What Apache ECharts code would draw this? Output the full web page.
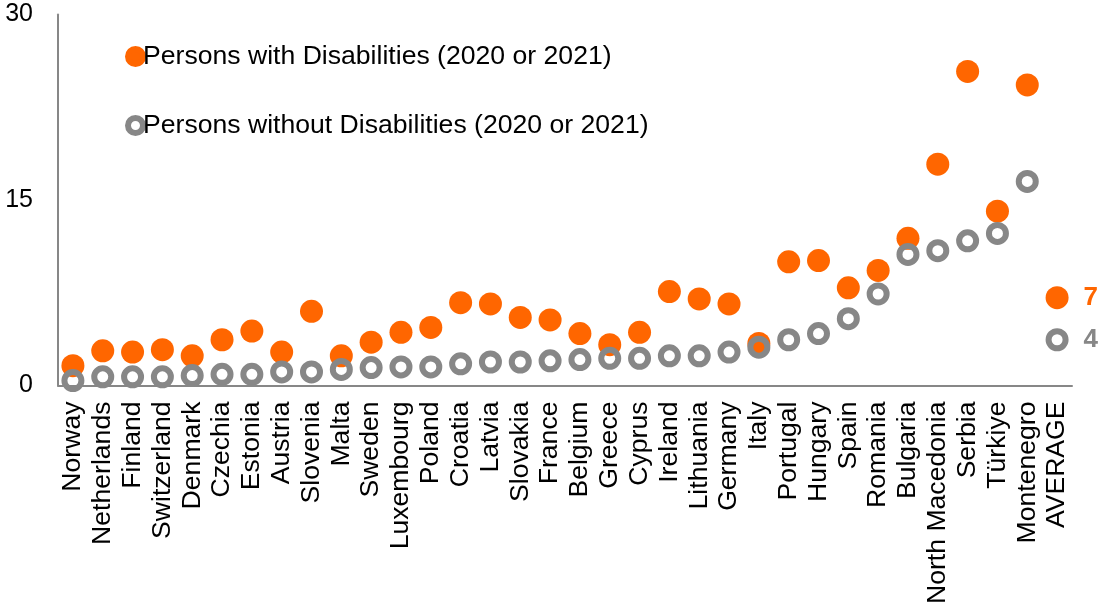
<!DOCTYPE html>
<html>
<head>
<meta charset="utf-8">
<script src="https://cdn.jsdelivr.net/npm/echarts@6/dist/echarts.min.js"></script>
<style>
html,body{margin:0;padding:0;background:#fff;}
#chart{width:1103px;height:608px;}
</style>
</head>
<body>
<div id="chart"></div>
<script>
const categories = ["Norway","Netherlands","Finland","Switzerland","Denmark","Czechia","Estonia","Austria","Slovenia","Malta","Sweden","Luxembourg","Poland","Croatia","Latvia","Slovakia","France","Belgium","Greece","Cyprus","Ireland","Lithuania","Germany","Italy","Portugal","Hungary","Spain","Romania","Bulgaria","North Macedonia","Serbia","Türkiye","Montenegro","AVERAGE"];
const withDisabilities = [1.6, 2.8, 2.7, 2.9, 2.4, 3.7, 4.4, 2.7, 6.0, 2.4, 3.5, 4.3, 4.7, 6.7, 6.6, 5.5, 5.3, 4.2, 3.3, 4.3, 7.6, 7.0, 6.6, 3.4, 10.0, 10.1, 7.9, 9.3, 11.9, 17.9, 25.4, 14.1, 24.3, 7.1];
const withoutDisabilities = [0.4, 0.7, 0.7, 0.7, 0.8, 0.9, 0.9, 1.1, 1.1, 1.3, 1.45, 1.5, 1.5, 1.75, 1.9, 1.9, 2.0, 2.1, 2.2, 2.2, 2.4, 2.4, 2.7, 3.1, 3.7, 4.2, 5.4, 7.4, 10.6, 10.9, 11.7, 12.3, 16.5, 3.7];
const yTicks = [0, 15, 30];
const seriesNames = ["Persons with Disabilities (2020 or 2021)", "Persons without Disabilities (2020 or 2021)"];

const ORANGE = '#FF6600';
const GRAY = '#878787';
const FONT = '"Liberation Sans", Arial, sans-serif';

function withLastLabel(arr, color) {
  return arr.map((v, i) => {
    if (i !== arr.length - 1) return v;
    return {
      value: v,
      label: {
        show: true, position: 'right', distance: 15,
        formatter: p => String(Math.round(p.value)),
        color: color, fontSize: 26, fontWeight: 'bold', fontFamily: FONT
      }
    };
  });
}

const chart = echarts.init(document.getElementById('chart'), null, {renderer: 'canvas'});
chart.setOption({
  animation: false,
  backgroundColor: '#fff',
  grid: {left: 58, right: 31, top: 14.5, bottom: 222.5, containLabel: false},
  legend: {
    orient: 'vertical',
    left: 125, top: 43,
    padding: 0,
    itemGap: 42,
    itemWidth: 15, itemHeight: 15,
    textStyle: {fontSize: 26.6, fontFamily: FONT, color: '#000', lineHeight: 27, padding: [0,0,0,-5]},
    data: [
      {name: seriesNames[0], icon: 'circle', itemStyle: {color: ORANGE, borderColor: ORANGE, borderWidth: 6}},
      {name: seriesNames[1], icon: 'circle', itemStyle: {color: '#fff', borderColor: GRAY, borderWidth: 6}}
    ]
  },
  xAxis: {
    type: 'category',
    data: categories,
    boundaryGap: true,
    axisLine: {lineStyle: {color: GRAY, width: 2}},
    axisTick: {show: false},
    axisLabel: {rotate: 90, fontSize: 26.6, fontFamily: FONT, color: '#000', margin: 16, interval: 0},
    splitLine: {show: false}
  },
  yAxis: {
    type: 'value',
    min: 0, max: 30, interval: 15,
    axisLine: {show: true, lineStyle: {color: GRAY, width: 2}},
    axisTick: {show: false},
    axisLabel: {fontSize: 25, fontFamily: FONT, color: '#000', margin: 25,
      formatter: v => yTicks.includes(v) ? String(v) : ''},
    splitLine: {show: false}
  },
  series: [
    {
      name: seriesNames[0],
      type: 'scatter',
      symbol: 'circle',
      symbolSize: 23,
      itemStyle: {color: ORANGE, opacity: 1},
      data: withLastLabel(withDisabilities, ORANGE),
      z: 2
    },
    {
      name: seriesNames[1],
      type: 'scatter',
      symbol: 'circle',
      symbolSize: 17,
      itemStyle: {color: 'rgba(255,255,255,0)', borderColor: GRAY, borderWidth: 6, opacity: 1},
      data: withLastLabel(withoutDisabilities, GRAY),
      z: 3
    }
  ]
});
</script>
</body>
</html>
